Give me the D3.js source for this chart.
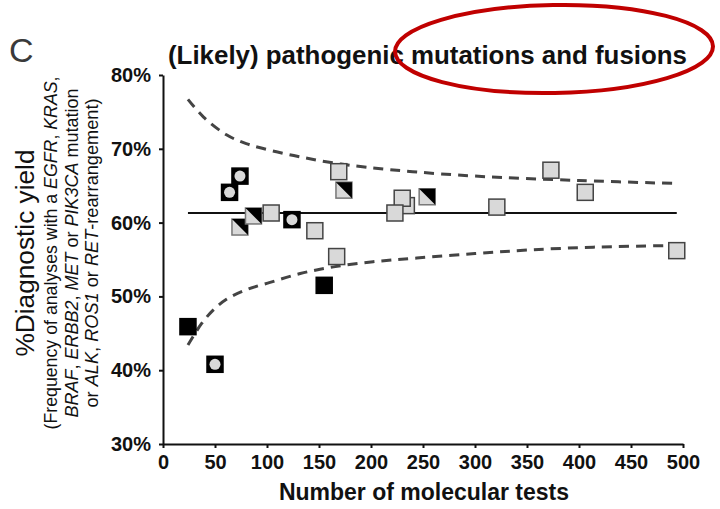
<script src="https://d3js.org/d3.v7.min.js"></script>

<style>
  body { margin: 0; background: white; }
  text { font-family: "Liberation Sans", Arial, sans-serif; fill: #111; }
</style>

<div id="graph"></div>

<script>

// Data: number of tests (x) and diagnostic yield in % (y)
var testCounts = [24, 50, 64, 74, 74, 87, 104, 124, 146, 155, 167, 169, 174, 234, 230, 223, 254, 321, 373, 406, 494];
var yieldPct   = [45.9, 40.8, 64.1, 66.3, 59.4, 60.9, 61.3, 60.4, 58.9, 51.5, 55.4, 66.9, 64.4, 62.3, 63.3, 61.3, 63.5, 62.1, 67.1, 64.1, 56.2];
// marker type: grey square, black square, black square with dot, half black/grey square
var markerType = ['black', 'dot', 'dot', 'dot', 'half', 'half', 'grey', 'dot', 'grey', 'black', 'grey', 'grey', 'half', 'grey', 'grey', 'grey', 'half', 'grey', 'grey', 'grey', 'grey'];

// pooled mean yield
var meanYield = 61.3;
var meanRange = [24, 494];

// 95% funnel limits
var upperX = [24, 39, 61, 80, 103, 132, 163, 196, 240, 300, 400, 494];
var upperY = [76.7, 74.3, 71.9, 70.7, 69.8, 68.9, 68.1, 67.5, 66.9, 66.3, 65.7, 65.3];
var lowerX = [24, 37, 48, 61, 80, 103, 132, 164, 202, 244, 300, 353, 420, 494];
var lowerY = [43.4, 46.3, 48.1, 49.6, 50.9, 51.9, 53.1, 54.0, 54.7, 55.2, 55.8, 56.3, 56.7, 56.9];

var xTicks = [0, 50, 100, 150, 200, 250, 300, 350, 400, 450, 500];
var yTicks = [30, 40, 50, 60, 70, 80];

var width = 720, height = 509;

var svg = d3.select('#graph')
    .append('svg')
    .attr('width', width)
    .attr('height', height)

var x = d3.scaleLinear().domain([0, 500]).range([163, 683])
var y = d3.scaleLinear().domain([30, 80]).range([444, 75])

// Panel letter
svg.append('text')
  .attr('x', 9).attr('y', 62)
  .style('font-size', '34px')
  .style('fill', '#3a3a3a')
  .text('C')

// Title
svg.append('text')
  .attr('x', 168).attr('y', 64)
  .attr('textLength', 519)
  .attr('lengthAdjust', 'spacingAndGlyphs')
  .style('font-size', '26px')
  .style('font-weight', 'bold')
  .text('(Likely) pathogenic mutations and fusions')

// Axes
svg.append('g')
  .attr('transform', 'translate(163,0)')
  .call(d3.axisLeft(y).tickValues(yTicks).tickSize(4).tickSizeOuter(0).tickPadding(8)
    .tickFormat(function(d) { return d + '%' }))

svg.append('g')
  .attr('transform', 'translate(0,444)')
  .call(d3.axisBottom(x).tickValues(xTicks).tickSize(4).tickSizeOuter(0).tickPadding(7))

svg.selectAll('.domain, .tick line').attr('stroke', '#111').attr('stroke-width', 2)
svg.selectAll('.tick text')
  .style('font-family', '"Liberation Sans Narrow", "Liberation Sans", Arial, sans-serif')
  .style('font-size', '20px')
  .style('font-weight', 'bold')
  .style('fill', '#111')

// Axis titles
svg.append('text')
  .attr('x', 424).attr('y', 500)
  .attr('text-anchor', 'middle')
  .style('font-size', '23px')
  .style('font-weight', 'bold')
  .text('Number of molecular tests')

var ylab = svg.append('g').attr('transform', 'translate(0,253) rotate(-90)')

ylab.append('text')
  .attr('x', 0).attr('y', 34)
  .attr('text-anchor', 'middle')
  .attr('textLength', 207)
  .attr('lengthAdjust', 'spacingAndGlyphs')
  .style('font-size', '25px')
  .text('%Diagnostic yield')

var subLines = [
  [['(Frequency of analyses with a ', 0], ['EGFR', 1], [', ', 0], ['KRAS', 1], [',', 0]],
  [['BRAF', 1], [', ', 0], ['ERBB2', 1], [', ', 0], ['MET', 1], [' or ', 0], ['PIK3CA', 1], [' mutation', 0]],
  [['or ', 0], ['ALK', 1], [', ', 0], ['ROS1', 1], [' or ', 0], ['RET', 1], ['-rearrangement)', 0]]
]
var subBase = [57, 78, 98]
var subLen = [353, 329, 309]

subLines.forEach(function(parts, i) {
  var t = ylab.append('text')
    .attr('x', 0).attr('y', subBase[i])
    .attr('text-anchor', 'middle')
    .attr('textLength', subLen[i])
    .attr('lengthAdjust', 'spacingAndGlyphs')
    .style('font-size', '19px')
  t.selectAll('tspan')
    .data(parts)
    .enter().append('tspan')
    .style('font-style', function(d) { return d[1] ? 'italic' : 'normal' })
    .text(function(d) { return d[0] })
})

// Funnel limits and mean line
var line = d3.line()
  .x(function(d) { return x(d[0]) })
  .y(function(d) { return y(d[1]) })
  .curve(d3.curveCatmullRom)

svg.append('path')
  .datum(d3.zip(upperX, upperY))
  .attr('d', line)
  .attr('fill', 'none').attr('stroke', '#444').attr('stroke-width', 3)
  .attr('stroke-dasharray', '10,7')

svg.append('path')
  .datum(d3.zip(lowerX, lowerY))
  .attr('d', line)
  .attr('fill', 'none').attr('stroke', '#444').attr('stroke-width', 3)
  .attr('stroke-dasharray', '10,7')

svg.append('line')
  .attr('x1', x(meanRange[0])).attr('x2', x(meanRange[1]))
  .attr('y1', y(meanYield)).attr('y2', y(meanYield))
  .attr('stroke', '#111').attr('stroke-width', 2)

// Study markers
var s = 16
var points = d3.range(testCounts.length).map(function(i) {
  return {n: testCounts[i], v: yieldPct[i], type: markerType[i]}
})

var marks = svg.append('g')
  .selectAll('g')
  .data(points)
  .enter().append('g')
  .attr('transform', function(d) { return 'translate(' + x(d.n) + ',' + y(d.v) + ')' })

marks.append('rect')
  .attr('x', -s / 2).attr('y', -s / 2)
  .attr('width', s).attr('height', s)
  .attr('fill', function(d) { return (d.type == 'black' || d.type == 'dot') ? '#000' : '#d9d9d9' })
  .attr('stroke', function(d) { return d.type == 'half' ? '#777' : (d.type == 'grey' ? '#444' : '#000') })
  .attr('stroke-width', 1.5)

marks.filter(function(d) { return d.type == 'half' })
  .append('path')
  .attr('d', 'M' + (-s / 2) + ',' + (-s / 2) + 'L' + (s / 2) + ',' + (-s / 2) + 'L' + (s / 2) + ',' + (s / 2) + 'Z')
  .attr('fill', '#000')

marks.filter(function(d) { return d.type == 'dot' })
  .append('circle')
  .attr('r', 5.5)
  .attr('fill', '#d9d9d9')

// Red annotation ring around part of the title
svg.append('ellipse')
  .attr('cx', 554).attr('cy', 49)
  .attr('rx', 159).attr('ry', 44)
  .attr('transform', 'rotate(-1 554 49)')
  .attr('fill', 'none')
  .attr('stroke', '#c00000')
  .attr('stroke-width', 4)

</script>
